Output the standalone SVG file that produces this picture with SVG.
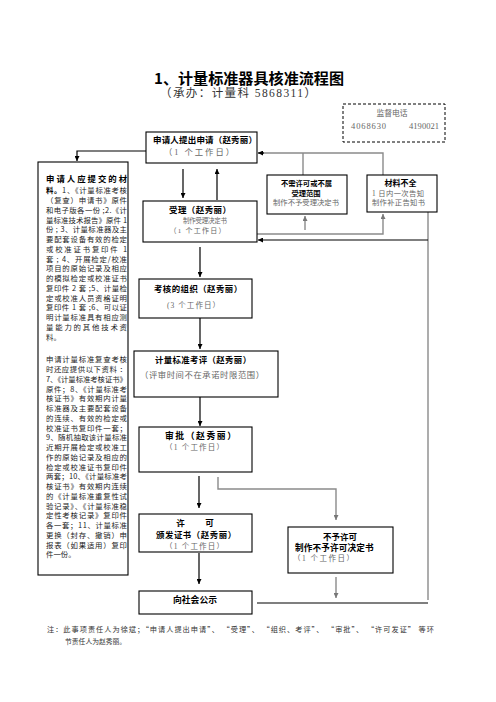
<svg xmlns="http://www.w3.org/2000/svg" width="496" height="702" viewBox="0 0 496 702">
<style>
.bg{fill:#fff}
.box{fill:#fff;stroke:#000;stroke-width:1.1}
.dash{fill:none;stroke:#000;stroke-width:1;stroke-dasharray:3,2}
.ln{fill:none;stroke:#000;stroke-width:1.2}
.gl{fill:none;stroke:#8a8a8a;stroke-width:1.4}
.b{font-family:"Noto Sans CJK SC","Noto Sans",sans-serif;font-weight:700;fill:#000}
.g{font-family:"Liberation Serif","Noto Sans CJK SC",serif;fill:#666}
.t{font-family:"Noto Sans CJK SC","Noto Sans",sans-serif;fill:#222;font-size:7.4px}
.tb{font-weight:700;font-size:8.4px;fill:#000}
.tb2{font-weight:700;fill:#000}
</style>
<defs>
<marker id="ab" markerWidth="5" markerHeight="5" refX="5" refY="2.5" orient="auto" markerUnits="userSpaceOnUse"><path d="M0,0 L5,2.5 L0,5 z" fill="#000"/></marker>
<marker id="ag" markerWidth="5" markerHeight="5" refX="5" refY="2.5" orient="auto" markerUnits="userSpaceOnUse"><path d="M0,0 L5,2.5 L0,5 z" fill="#777"/></marker>
</defs>
<rect class="bg" x="0" y="0" width="496" height="702"/>

<g id="title">
<text class="b" x="154" y="83.7" font-size="15" textLength="190" lengthAdjust="spacingAndGlyphs">1、计量标准器具核准流程图</text>
<text class="g" x="160" y="97.4" font-size="11.5" style="fill:#333" textLength="156" lengthAdjust="spacing">（承办：计量科 5868311）</text>
</g>

<g id="supervision">
<rect class="dash" x="343" y="104" width="102" height="38"/>
<text class="g" x="392" y="116" font-size="7.8" text-anchor="middle">监督电话</text>
<text class="g" x="351" y="129" font-size="8.5" textLength="35">4068630</text>
<text class="g" x="409" y="129" font-size="8.5" textLength="30">4190021</text>
</g>

<g id="connectors">
<path class="ln" d="M146,151 H77 V161" marker-end="url(#ab)"/>
<path class="ln" d="M183,169 V198" marker-end="url(#ab)"/>
<path class="ln" d="M217,200 V169" marker-end="url(#ab)"/>
<path class="gl" d="M383,175 V153 H263"/>
<path class="ln" d="M264,153 H258" marker-end="url(#ab)"/>
<path class="gl" d="M303,153 V175"/>
<path class="gl" d="M257,234 H383 V214" marker-end="url(#ag)"/>
<path class="gl" d="M305,230 V216" marker-end="url(#ag)"/>
<path class="gl" d="M428,212 V600"/>
<path class="ln" d="M428,240 H258" marker-end="url(#ab)"/>
<path class="ln" d="M200,247 V277" marker-end="url(#ab)"/>
<path class="ln" d="M200,318 V349" marker-end="url(#ab)"/>
<path class="ln" d="M200,397 V426" marker-end="url(#ab)"/>
<path class="ln" d="M199,476 V508" marker-end="url(#ab)"/>
<path class="gl" d="M218,477 V489 H336 V520" marker-end="url(#ag)"/>
<path class="ln" d="M199,553 V584" marker-end="url(#ab)"/>
<path class="gl" d="M336,577 V598" marker-end="url(#ag)"/>
<path class="ln" d="M257,603 H428"/>
</g>

<g id="n-apply">
<rect class="box" x="146" y="132" width="111" height="31"/>
<text class="b" x="153" y="143.2" font-size="8.5" textLength="104" lengthAdjust="spacing">申请人提出申请（赵秀丽）</text>
<text class="g" x="164" y="155" font-size="8.3" textLength="70" lengthAdjust="spacing">（1 个工作日）</text>
</g>

<g id="n-materials">
<rect class="box" x="38" y="162" width="90" height="413"/>
<text class="t tb" x="46" y="182.3" textLength="81" lengthAdjust="spacing">申请人应提交的材</text>
<text class="t" x="46" y="193.3" textLength="81" lengthAdjust="spacing"><tspan class="tb2">料。</tspan>1、《计量标准考核</text>
<text class="t" x="46" y="203.1" textLength="81" lengthAdjust="spacing">（复查）申请书》原件</text>
<text class="t" x="46" y="212.8" textLength="81" lengthAdjust="spacing">和电子版各一份 ;2.《计</text>
<text class="t" x="46" y="222.6" textLength="81" lengthAdjust="spacing">量标准技术报告》原件 1</text>
<text class="t" x="46" y="232.3" textLength="81" lengthAdjust="spacing">份 ; 3、计量标准器及主</text>
<text class="t" x="46" y="242.1" textLength="81" lengthAdjust="spacing">要配套设备有效的检定</text>
<text class="t" x="46" y="251.8" textLength="81" lengthAdjust="spacing">或校准证书复印件 1</text>
<text class="t" x="46" y="261.6" textLength="81" lengthAdjust="spacing">套 ; 4、开展检定/校准</text>
<text class="t" x="46" y="271.3" textLength="81" lengthAdjust="spacing">项目的原始记录及相应</text>
<text class="t" x="46" y="281.1" textLength="81" lengthAdjust="spacing">的模拟检定或校准证书</text>
<text class="t" x="46" y="290.8" textLength="81" lengthAdjust="spacing">复印件 2 套 ;5、计量检</text>
<text class="t" x="46" y="300.6" textLength="81" lengthAdjust="spacing">定或校准人员资格证明</text>
<text class="t" x="46" y="310.3" textLength="81" lengthAdjust="spacing">复印件 1 套 ;6、可以证</text>
<text class="t" x="46" y="320.1" textLength="81" lengthAdjust="spacing">明计量标准具有相应测</text>
<text class="t" x="46" y="329.8" textLength="81" lengthAdjust="spacing">量能力的其他技术资</text>
<text class="t" x="46" y="339.6">料。</text>
<text class="t" x="46" y="362.3" textLength="81" lengthAdjust="spacing">申请计量标准复查考核</text>
<text class="t" x="46" y="372.0" textLength="81" lengthAdjust="spacing">时还应提供以下资料 ：</text>
<text class="t" x="46" y="381.8" textLength="81" lengthAdjust="spacing">7、《计量标准考核证书》</text>
<text class="t" x="46" y="391.5" textLength="81" lengthAdjust="spacing">原件；8、《计量标准考</text>
<text class="t" x="46" y="401.3" textLength="81" lengthAdjust="spacing">核证书》有效期内计量</text>
<text class="t" x="46" y="411.0" textLength="81" lengthAdjust="spacing">标准器及主要配套设备</text>
<text class="t" x="46" y="420.8" textLength="81" lengthAdjust="spacing">的连续、有效的检定或</text>
<text class="t" x="46" y="430.5" textLength="81" lengthAdjust="spacing">校准证书复印件一套；</text>
<text class="t" x="46" y="440.3" textLength="81" lengthAdjust="spacing">9、随机抽取该计量标准</text>
<text class="t" x="46" y="450.0" textLength="81" lengthAdjust="spacing">近期开展检定或校准工</text>
<text class="t" x="46" y="459.8" textLength="81" lengthAdjust="spacing">作的原始记录及相应的</text>
<text class="t" x="46" y="469.5" textLength="81" lengthAdjust="spacing">检定或校准证书复印件</text>
<text class="t" x="46" y="479.3" textLength="81" lengthAdjust="spacing">两套；10、《计量标准考</text>
<text class="t" x="46" y="489.0" textLength="81" lengthAdjust="spacing">核证书》有效期内连续</text>
<text class="t" x="46" y="498.8" textLength="81" lengthAdjust="spacing">的《计量标准重复性试</text>
<text class="t" x="46" y="508.5" textLength="81" lengthAdjust="spacing">验记录》、《计量标准稳</text>
<text class="t" x="46" y="518.3" textLength="81" lengthAdjust="spacing">定性考核记录》复印件</text>
<text class="t" x="46" y="528.0" textLength="81" lengthAdjust="spacing">各一套；11、计量标准</text>
<text class="t" x="46" y="537.8" textLength="81" lengthAdjust="spacing">更换（封存、撤销）申</text>
<text class="t" x="46" y="547.5" textLength="81" lengthAdjust="spacing">报表（如果适用）复印</text>
<text class="t" x="46" y="557.3">件一份。</text>
</g>

<g id="n-nolicense">
<rect class="box" x="267" y="175" width="80" height="39"/>
<text class="b" x="306.5" y="185.8" font-size="7.3" text-anchor="middle">不需许可或不属</text>
<text class="b" x="306" y="195.8" font-size="7.3" text-anchor="middle">受理范围</text>
<text class="g" x="306" y="204.8" font-size="7.3" text-anchor="middle" textLength="66" lengthAdjust="spacing">制作不予受理决定书</text>
</g>

<g id="n-incomplete">
<rect class="box" x="367" y="175" width="70" height="37"/>
<text class="b" x="400.5" y="185.8" font-size="8" text-anchor="middle">材料不全</text>
<text class="g" x="372" y="195.8" font-size="7.3" textLength="52" lengthAdjust="spacing">1 日内一次告知</text>
<text class="g" x="372" y="204.8" font-size="7.3" textLength="53" lengthAdjust="spacing">制作补正告知书</text>
</g>

<g id="n-accept">
<rect class="box" x="143" y="201" width="114" height="41"/>
<text class="b" x="169" y="213.2" font-size="8.5" textLength="62" lengthAdjust="spacing">受理（赵秀丽）</text>
<text class="g" x="183" y="222.5" font-size="6.5" textLength="44" lengthAdjust="spacing">制作受理决定书</text>
<text class="g" x="169.5" y="232.7" font-size="7" textLength="56" lengthAdjust="spacing">（1 个工作日）</text>
</g>

<g id="n-organize">
<rect class="box" x="139" y="279" width="113" height="39"/>
<text class="b" x="154" y="292.2" font-size="8.4" textLength="88" lengthAdjust="spacing">考核的组织（赵秀丽）</text>
<text class="g" x="167" y="307.8" font-size="7.5" textLength="53" lengthAdjust="spacing">(3 个工作日）</text>
</g>

<g id="n-review">
<rect class="box" x="134" y="351" width="144" height="46"/>
<text class="b" x="155" y="363.2" font-size="8.4" textLength="96" lengthAdjust="spacing">计量标准考评（赵秀丽）</text>
<text class="g" x="140" y="378" font-size="8.3" textLength="124" lengthAdjust="spacing">（评审时间不在承诺时限范围）</text>
</g>

<g id="n-approve">
<rect class="box" x="139" y="427" width="113" height="45"/>
<text class="b" x="165" y="439.4" font-size="8.8" textLength="71" lengthAdjust="spacing">审批（赵秀丽）</text>
<text class="g" x="165" y="449.8" font-size="7.5" textLength="59" lengthAdjust="spacing">（1 个工作日）</text>
</g>

<g id="n-license">
<rect class="box" x="139" y="514" width="113" height="38"/>
<text class="b" y="526.2" font-size="8.5"><tspan x="176.3">许</tspan><tspan x="203.3"> 可</tspan></text>
<text class="b" x="156" y="538.2" font-size="8.4" textLength="80" lengthAdjust="spacing">颁发证书（赵秀丽）</text>
<text class="g" x="165" y="548.8" font-size="7.5" textLength="59" lengthAdjust="spacing">（1 个工作日）</text>
</g>

<g id="n-deny">
<rect class="box" x="288" y="527" width="105" height="46"/>
<text class="b" x="340" y="540.2" font-size="8.5" text-anchor="middle">不予许可</text>
<text class="b" x="295" y="551.3" font-size="8.6" textLength="78.5" lengthAdjust="spacing">制作不予许可决定书</text>
<text class="g" x="293" y="560.8" font-size="7.5" textLength="61" lengthAdjust="spacing">（1 个工作日）</text>
</g>

<g id="n-publish">
<rect class="box" x="139" y="591" width="113" height="23"/>
<text class="b" x="195" y="603.3" font-size="8.8" text-anchor="middle">向社会公示</text>
</g>

<g id="note">
<text class="t" x="47" y="631.8" style="font-size:7.2px;fill:#333" textLength="387" lengthAdjust="spacing">注：此事项责任人为徐斌；“申请人提出申请”、 “受理”、 “组织、考评”、 “审批”、 “许可发证”  等环</text>
<text class="t" x="65" y="643.7" style="font-size:6.8px;fill:#333">节责任人为赵秀丽。</text>
</g>
</svg>
